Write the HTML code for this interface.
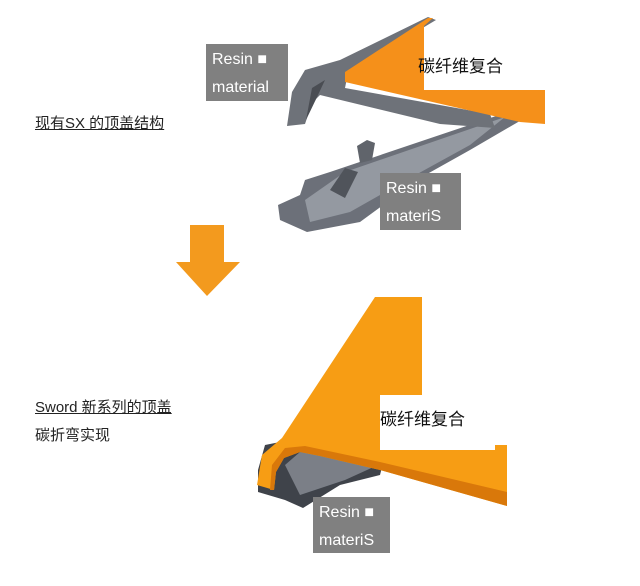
<!DOCTYPE html>
<html><head><meta charset="utf-8"><style>
body{margin:0;background:#fff;width:640px;height:586px;overflow:hidden;position:relative;font-family:"Liberation Sans","Noto Sans CJK SC",sans-serif}
.t{position:absolute;font-size:15px;color:#222;white-space:nowrap}
.u{text-decoration:underline}
.lb{position:absolute;background:#808080;color:#fff;font-size:16px;line-height:28px;padding:2px 6px;box-sizing:border-box}
.cn{position:absolute;font-size:17px;color:#111;font-family:"Liberation Sans","Noto Sans CJK SC",sans-serif}
</style></head><body>
<svg width="640" height="586" style="position:absolute;left:0;top:0">
<!-- lower grey bar -->
<polygon points="278,205 300,195 305,180 330,172 505,113 525,118 470,150 420,178 360,222 307,232 280,220" fill="#6c7079"/>
<polygon points="305,200 345,172 505,117 470,145 410,178 350,212 310,222" fill="#9499a1"/>
<polygon points="330,190 345,168 358,172 345,198" fill="#50545b"/>
<polygon points="357,146 367,140 375,143 372,160 360,163" fill="#60646b"/>
<!-- top grey rail -->
<polygon points="287,126 292,92 305,70 340,60 428,17 436,20 352,70 347,78 345,88 490,114 495,128 440,124 320,95 312,103 305,124" fill="#6e7279"/>
<polygon points="306,120 312,88 325,80 318,95" fill="#4a4d53"/>
<!-- top orange -->
<polygon points="345,72 428,18 433,18 424,26 424,90 545,90 545,124 520,122 345,82" fill="#f5901a"/>
<!-- arrow -->
<polygon points="190,225 224,225 224,262 240,262 207,296 176,262 190,262" fill="#f39a1e"/>
<!-- bottom grey channel -->
<polygon points="258,470 265,445 290,440 385,455 380,475 340,485 303,508 285,500 258,492" fill="#3f434a"/>
<polygon points="285,465 300,452 378,465 345,480 300,495" fill="#7b7f87"/>
<!-- bottom orange -->
<polygon points="257,485 262,455 282,438 375,297 422,297 422,395 380,395 380,450 495,450 495,445 507,445 507,506 380,470 320,456 300,452 284,458 276,472 274,490" fill="#f79d14"/>
<polygon points="507,492 507,506 380,470 320,456 300,452 284,458 276,472 274,490 270,490 272,465 285,448 305,446 380,462" fill="#d9780a"/>
</svg>
<div class="lb" style="left:206px;top:44px;width:82px;height:57px">Resin ■<br>material</div>
<div class="lb" style="left:380px;top:173px;width:81px;height:57px">Resin ■<br>materiS</div>
<div class="lb" style="left:313px;top:497px;width:77px;height:56px">Resin ■<br>materiS</div>
<div class="cn" style="left:418px;top:52px">碳纤维复合</div>
<div class="cn" style="left:380px;top:405px">碳纤维复合</div>
<div class="t u" style="left:35px;top:112px">现有SX 的顶盖结构</div>
<div class="t u" style="left:35px;top:396px">Sword 新系列的顶盖</div>
<div class="t" style="left:35px;top:424px">碳折弯实现</div>
</body></html>
